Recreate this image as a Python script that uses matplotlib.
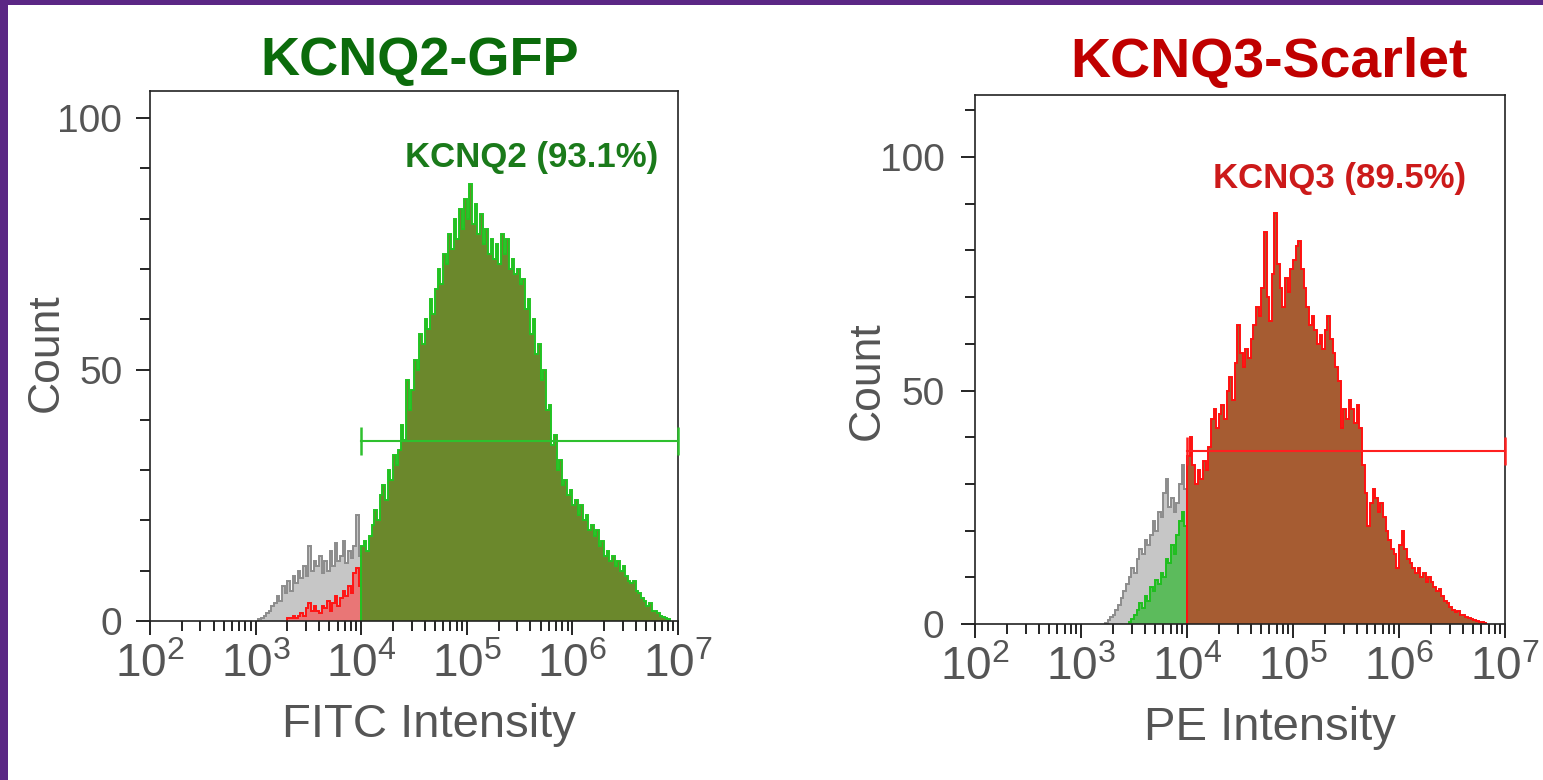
import numpy as np
import matplotlib
matplotlib.use('Agg')
import matplotlib.pyplot as plt
from matplotlib.patches import Rectangle
from matplotlib.ticker import LogLocator, MultipleLocator, NullFormatter, FuncFormatter

plt.rcParams['font.family'] = ['Liberation Sans', 'DejaVu Sans']
plt.rcParams['mathtext.default'] = 'regular'

BIN = 0.025  # histogram bin width in log10 units

# ---- KCNQ2-GFP (FITC channel) ----
gfp_ctrl_start = 3.025
gfp_ctrl = [0.3, 0.5, 1, 1.5, 2, 3, 3.5, 5, 4, 7, 5.5, 8, 6, 9, 7.5, 10, 8.5, 11, 9, 15,
            10, 12, 11, 13, 9.5, 12, 10, 14, 11, 15.5, 12, 13, 16, 11.5, 14, 12.5, 15, 21, 13]
gfp_neg_start = 3.300
gfp_neg = [0.5, 0.5, 1, 0.5, 1, 1.5, 1, 2.5, 3.5, 2, 3, 2, 1.5, 3, 2.5, 4, 2, 3.5, 5, 3,
           4.5, 6, 5, 7, 5.5, 9.5, 10.5, 7]
gfp_pos_start = 4.000
gfp_pos = [15, 16, 14, 17, 19, 22, 20, 25, 27, 24, 30, 28, 33, 31, 34, 39, 36, 48, 42, 46,
           52, 50, 57, 55, 60, 58, 64, 61, 66, 70, 67, 73, 71, 77, 74, 80, 76, 82, 78, 84,
           80, 87, 79, 83, 77, 81, 75, 78, 73, 76, 72, 75, 71, 77, 73, 76, 70, 72, 69, 70,
           67, 68, 62, 64, 57, 60, 53, 55, 48, 50, 42, 43, 35, 37, 30, 32, 27, 28, 25, 26,
           23, 24, 21, 23, 20, 21, 18, 19, 17, 18, 15, 16, 13, 14, 12, 13, 11, 12, 10, 11,
           9, 8, 7.5, 8, 6, 5.5, 4.5, 4, 3, 3.5, 2, 2, 1.5, 1, 0.8, 0.5, 0.3]
gfp_gate = [1e4, 1e7]
gfp_gate_y = 35.8
gfp_gate_label = 'KCNQ2 (93.1%)'

# ---- KCNQ3-Scarlet (PE channel) ----
sc_ctrl_start = 3.225
sc_ctrl = [0.3, 0.8, 1.5, 2, 3, 4, 5.5, 7, 8.5, 10, 12, 11, 14, 16, 15, 18, 17, 19, 22, 20,
           24, 23, 28, 31, 25, 27, 24, 26, 30, 34, 29]
sc_neg_start = 3.450
sc_neg = [0.5, 1, 2, 3, 4.5, 3.5, 6, 5, 8, 7, 9.5, 8.5, 11, 10, 14, 13, 17, 15, 19, 22,
          24, 21]
sc_pos_start = 4.000
sc_pos = [36, 40, 34, 30, 33, 31, 35, 33, 38, 44, 46, 42, 45, 47, 44, 50, 53, 48, 56, 64,
          58, 55, 59, 57, 61, 64, 68, 66, 72, 84, 70, 65, 75, 88, 77, 72, 68, 74, 71, 76,
          78, 81, 82, 76, 72, 68, 64, 66, 63, 60, 62, 59, 63, 66, 61, 58, 55, 52, 42, 46,
          44, 48, 46, 43, 47, 42, 34, 28, 21, 26, 29, 27, 24, 26, 23, 20, 18, 16, 15, 12,
          17, 20, 16, 14, 13, 12, 11, 12, 10, 11, 9, 10, 9, 8, 7, 7.5, 6, 5, 4.5, 3.6,
          3, 2.5, 2.8, 2, 2, 1.5, 1.2, 1, 0.8, 0.6, 0.5, 0.4, 0.2]
sc_gate = [1e4, 1e7]
sc_gate_y = 37.0
sc_gate_label = 'KCNQ3 (89.5%)'


def edges(start, vals):
    return 10 ** (start + BIN * np.arange(len(vals) + 1))


def log_label(v, pos):
    return r'$\mathregular{10^{%d}}$' % round(np.log10(v))


def setup_axes(ax, ytop, xlabel, ypad):
    ax.set_xscale('log')
    ax.set_xlim(1e2, 1e7)
    ax.set_ylim(0, ytop)
    ax.xaxis.set_major_locator(LogLocator(base=10, numticks=10))
    ax.xaxis.set_minor_locator(LogLocator(base=10, subs=np.arange(2, 10), numticks=20))
    ax.xaxis.set_major_formatter(FuncFormatter(log_label))
    ax.xaxis.set_minor_formatter(NullFormatter())
    ax.yaxis.set_major_locator(MultipleLocator(50))
    ax.yaxis.set_minor_locator(MultipleLocator(10))
    ax.tick_params(which='both', direction='out', color='black', width=1.2,
                   labelcolor='#555555')
    ax.tick_params(which='major', length=10)
    ax.tick_params(which='minor', length=7)
    ax.tick_params(axis='y', labelsize=28, pad=ypad)
    ax.tick_params(axis='x', labelsize=33, pad=6)
    for s in ax.spines.values():
        s.set_linewidth(1.2)
        s.set_color('#222222')
    ax.set_xlabel(xlabel, fontsize=34, color='#555555')
    ax.set_ylabel('Count', fontsize=32, color='#555555')


fig = plt.figure(figsize=(15.43, 7.80), dpi=100, facecolor='#5b2785')
fig.add_artist(Rectangle((8 / 1543, 0), 1, 1 - 5 / 780, transform=fig.transFigure,
                         facecolor='white', edgecolor='none', zorder=0))

# left panel
ax1 = fig.add_axes([150 / 1543, 1 - 621 / 780, 528 / 1543, 530 / 780])
ax1.set_facecolor('none')
ax1.stairs(gfp_ctrl, edges(gfp_ctrl_start, gfp_ctrl), fill=True, color='#c6c6c6')
ax1.stairs(gfp_ctrl, edges(gfp_ctrl_start, gfp_ctrl), color='#8c8c8c', lw=1.4)
ax1.stairs(gfp_neg, edges(gfp_neg_start, gfp_neg), fill=True, color='#e97676')
ax1.stairs(gfp_neg, edges(gfp_neg_start, gfp_neg), color='#ff1414', lw=1.4)
ax1.stairs(gfp_pos, edges(gfp_pos_start, gfp_pos), fill=True, color='#6b882c')
ax1.stairs(gfp_pos, edges(gfp_pos_start, gfp_pos), color='#22c322', lw=1.4)
ax1.plot(gfp_gate, [gfp_gate_y] * 2, color='#2ec02e', lw=1.5, marker='|', ms=20,
         mew=1.8, clip_on=False, zorder=5)
ax1.text(10 ** 5.61, 90.3, gfp_gate_label, ha='center', va='baseline', fontsize=25,
         fontweight='bold', color='#1a7a1a')
setup_axes(ax1, 105.4, 'FITC Intensity', 10)
ax1.xaxis.set_label_coords(0.528, -0.155)
ax1.yaxis.set_label_coords(-0.158, 0.506)
fig.text(420 / 1543, 1 - 75 / 780, 'KCNQ2-GFP', ha='center', va='baseline',
         fontsize=39, fontweight='bold', color='#0b6b0b')

# right panel
ax2 = fig.add_axes([975 / 1543, 1 - 624 / 780, 530 / 1543, 529 / 780])
ax2.set_facecolor('none')
ax2.stairs(sc_ctrl, edges(sc_ctrl_start, sc_ctrl), fill=True, color='#c6c6c6')
ax2.stairs(sc_ctrl, edges(sc_ctrl_start, sc_ctrl), color='#8c8c8c', lw=1.4)
ax2.stairs(sc_neg, edges(sc_neg_start, sc_neg), fill=True, color='#5cbb5c')
ax2.stairs(sc_neg, edges(sc_neg_start, sc_neg), color='#1fbf1f', lw=1.4)
ax2.stairs(sc_pos, edges(sc_pos_start, sc_pos), fill=True, color='#a65c32')
ax2.stairs(sc_pos, edges(sc_pos_start, sc_pos), color='#ff1010', lw=1.4)
ax2.plot(sc_gate, [sc_gate_y] * 2, color='#ff2020', lw=1.5, marker='|', ms=20,
         mew=1.8, clip_on=False, zorder=5)
ax2.text(10 ** 5.44, 93.4, sc_gate_label, ha='center', va='baseline', fontsize=25,
         fontweight='bold', color='#cc1a1a')
setup_axes(ax2, 113.3, 'PE Intensity', 12)
ax2.xaxis.set_label_coords(0.557, -0.155)
ax2.yaxis.set_label_coords(-0.165, 0.461)
fig.text(1269 / 1543, 1 - 77 / 780, 'KCNQ3-Scarlet', ha='center', va='baseline',
         fontsize=40, fontweight='bold', color='#c00000')

fig.savefig('out.png', dpi=100, facecolor=fig.get_facecolor())
